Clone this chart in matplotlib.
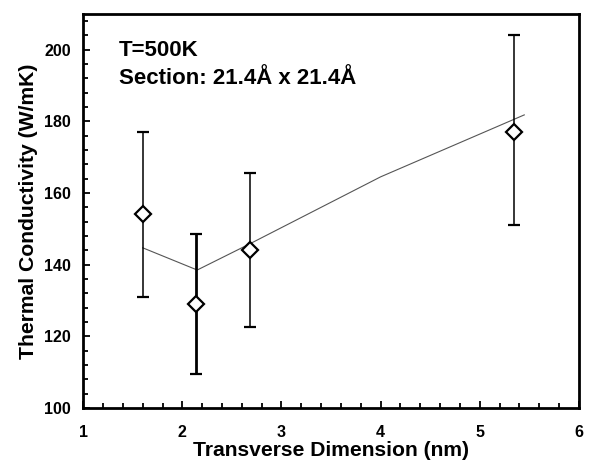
import numpy as np
import matplotlib.pyplot as plt
from matplotlib.ticker import MultipleLocator

plt.rcParams['font.family'] = ['Liberation Sans', 'DejaVu Sans']
plt.rcParams['font.weight'] = 'bold'

# ====== data ======
dim = [1.6, 2.14, 2.68, 5.35]          # transverse dimension (nm)
kappa = [154.0, 129.0, 144.0, 177.0]   # thermal conductivity (W/mK)
err_lo = [23.0, 19.5, 21.5, 26.0]
err_hi = [23.0, 19.5, 21.5, 27.0]

fit_x = [1.6, 2.15, 2.68, 4.0, 5.45]
fit_y = [144.7, 138.5, 145.8, 164.5, 181.8]

fig = plt.figure(figsize=(5.9, 4.62), dpi=100)
ax = fig.add_axes([0.1411, 0.117, 0.8399, 0.853])

ax.plot(fit_x, fit_y, '-', color='#555555', linewidth=0.8, zorder=2)

for i in range(len(dim)):
    lw = 2.0 if i == 1 else 1.1
    ax.errorbar(dim[i], kappa[i], yerr=[[err_lo[i]], [err_hi[i]]], fmt='none',
                ecolor='black', elinewidth=lw, capsize=4, capthick=1.6, zorder=3)
ax.plot(dim, kappa, 'D', markersize=8, markerfacecolor='white',
        markeredgecolor='black', markeredgewidth=1.6, zorder=4)

ax.set_xlim(1, 6)
ax.set_ylim(100, 210)
ax.xaxis.set_major_locator(MultipleLocator(1))
ax.xaxis.set_minor_locator(MultipleLocator(0.2))
ax.yaxis.set_major_locator(MultipleLocator(20))
ax.yaxis.set_minor_locator(MultipleLocator(4))
ax.tick_params(which='both', direction='in', top=False, right=False, width=1.3)
ax.tick_params(which='major', length=5, labelsize=11.5)
ax.tick_params(axis='x', which='major', pad=12)
ax.tick_params(axis='y', which='major', pad=9)
ax.tick_params(which='minor', length=3.5)
for s in ax.spines.values():
    s.set_linewidth(2)

ax.set_xlabel('Transverse Dimension (nm)', fontsize=15.2, fontweight='bold', labelpad=1)
ax.set_ylabel('Thermal Conductivity (W/mK)', fontsize=15.2, fontweight='bold', labelpad=4)

ax.text(0.072, 0.907, 'T=500K', transform=ax.transAxes, fontsize=16,
        fontweight='bold', va='center')
ax.text(0.072, 0.835, 'Section: 21.4Å x 21.4Å', transform=ax.transAxes,
        fontsize=16, fontweight='bold', va='center')

plt.savefig('out.png', dpi=100)
